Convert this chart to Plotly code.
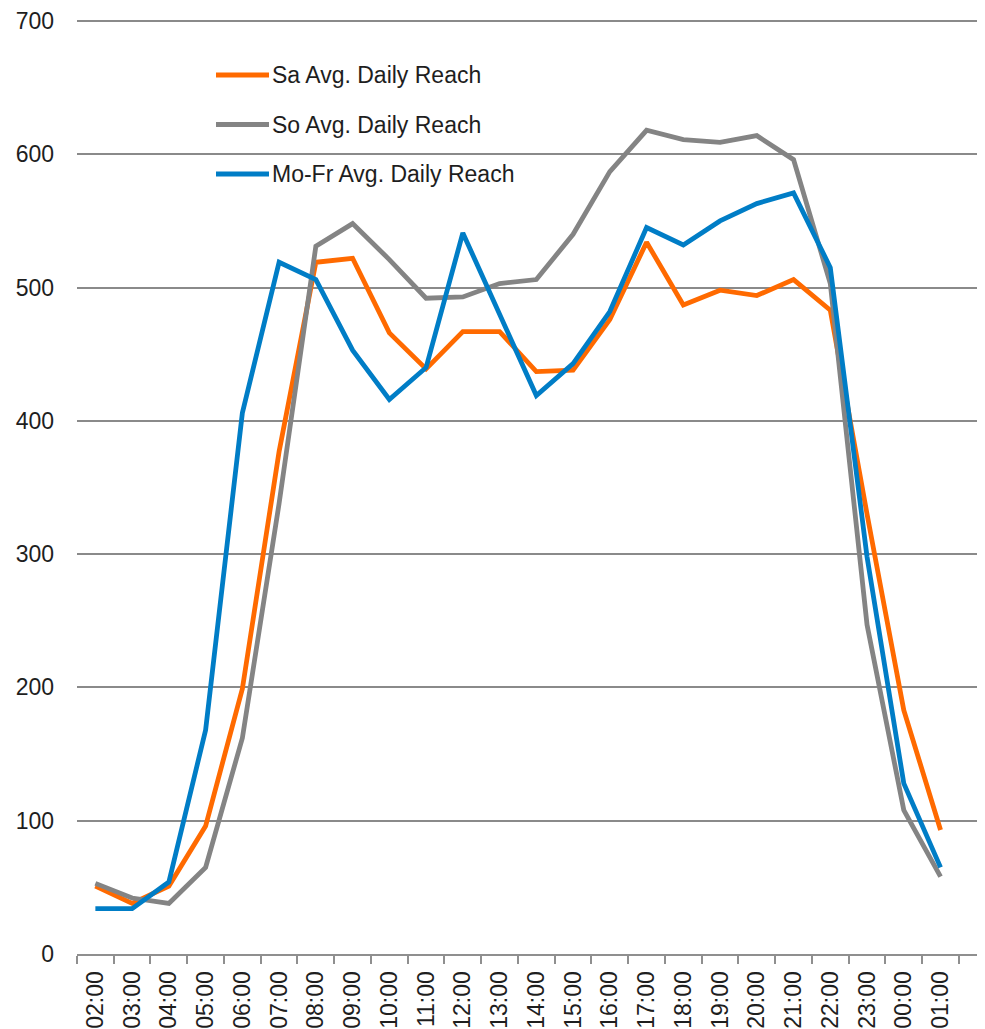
import plotly.graph_objects as go

hours = ["02:00", "03:00", "04:00", "05:00", "06:00", "07:00", "08:00", "09:00",
         "10:00", "11:00", "12:00", "13:00", "14:00", "15:00", "16:00", "17:00",
         "18:00", "19:00", "20:00", "21:00", "22:00", "23:00", "00:00", "01:00"]

sa_reach = [51, 38, 51, 96, 199, 377, 519, 522, 466, 439, 467, 467,
            437, 438, 476, 534, 487, 498, 494, 506, 483, 330, 183, 93]
so_reach = [53, 42, 38, 65, 162, 338, 531, 548, 521, 492, 493, 503,
            506, 540, 587, 618, 611, 609, 614, 596, 503, 247, 108, 58]
mofr_reach = [34, 34, 54, 168, 406, 519, 506, 453, 416, 440, 541, 480,
              419, 443, 482, 545, 532, 550, 563, 571, 515, 298, 128, 65]

series_names = ["Sa Avg. Daily Reach", "So Avg. Daily Reach", "Mo-Fr Avg. Daily Reach"]
series_colors = ["#FF6A00", "#848484", "#007DC6"]
y_ticks = [0, 100, 200, 300, 400, 500, 600, 700]

FONT = "Liberation Sans, Arial, sans-serif"
TXT = "#1e1e1e"
FS = 23

fig = go.Figure()
for name, vals, col in zip(series_names, [sa_reach, so_reach, mofr_reach], series_colors):
    fig.add_trace(go.Scatter(
        x=hours, y=vals, name=name, mode="lines",
        line=dict(color=col, width=4.8),
        showlegend=False,
    ))

# the page body has an 8px margin, so the figure is drawn 8px in from the corner
OFF = 8
W, H = 985 - OFF, 1029 - OFF
L, R, T, B = 77 - OFF, 0, 9, 75
pw, ph = W - L - R, H - T - B

def px_x(x):
    # page pixel -> paper fraction
    return (x - OFF - L) / pw

def px_y(y):
    return (H - B - (y - OFF)) / ph

shapes = [dict(type="rect", xref="paper", yref="paper",
               x0=px_x(174), x1=px_x(557), y0=px_y(200), y1=px_y(38),
               fillcolor="white", line=dict(width=0), layer="between")]
annotations = []
for i, (name, col) in enumerate(zip(series_names, series_colors)):
    yy = 75 + i * 49.5
    shapes.append(dict(type="line", xref="paper", yref="paper",
                       x0=px_x(216), x1=px_x(269), y0=px_y(yy), y1=px_y(yy),
                       line=dict(color=col, width=5), layer="above"))
    annotations.append(dict(xref="paper", yref="paper", x=px_x(270), y=px_y(yy),
                            text=name, showarrow=False, xanchor="left", yanchor="middle",
                            font=dict(family=FONT, size=FS, color=TXT)))

fig.update_layout(
    width=W, height=H,
    margin=dict(l=L, r=R, t=T, b=B, pad=0, autoexpand=False),
    paper_bgcolor="white", plot_bgcolor="white",
    font=dict(family=FONT, size=FS, color=TXT),
    shapes=shapes, annotations=annotations,
    showlegend=False,
)
fig.update_xaxes(
    type="category", range=[-0.5, 24.21],
    showgrid=False, zeroline=False,
    showline=True, linecolor="#8f8f8f", linewidth=2,
    ticks="outside", tickson="boundaries", ticklen=8, tickwidth=2, tickcolor="#8f8f8f",
    tickangle=-90, ticklabelstandoff=6,
    tickfont=dict(family=FONT, size=FS, color=TXT),
    automargin=False,
)
fig.update_yaxes(
    range=[0, 703], tickvals=y_ticks, ticktext=[str(v) for v in y_ticks],
    showgrid=True, gridcolor="#8a8a8a", gridwidth=1.6,
    zeroline=False, showline=False, ticks="",
    ticklabelstandoff=22,
    tickfont=dict(family=FONT, size=FS, color=TXT),
    automargin=False,
)

fig.write_html("out.html")
